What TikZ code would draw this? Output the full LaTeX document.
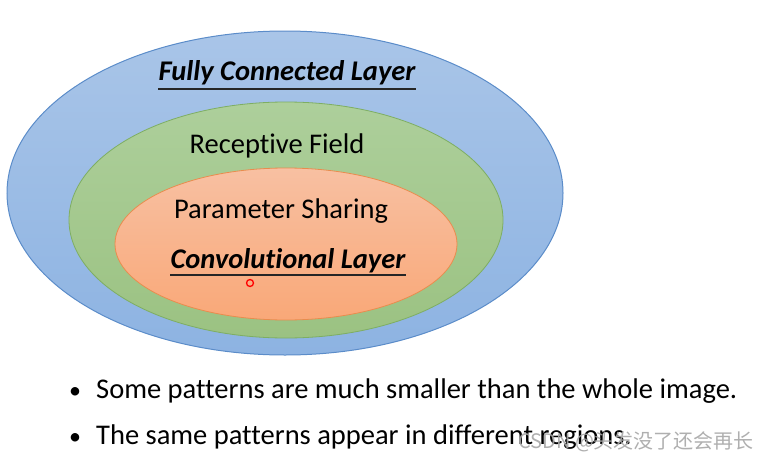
\documentclass[tikz,border=0pt]{standalone}
\usepackage{fontspec}
\setmainfont{Carlito}[Ligatures=NoCommon]
\newfontfamily\cjk{Noto Sans CJK SC}
\definecolor{blueF}{HTML}{A9C5E8}
\definecolor{blueB}{HTML}{8DB3E2}
\definecolor{blueD}{HTML}{5B8CC9}
\definecolor{greenF}{HTML}{ADCF9B}
\definecolor{greenB}{HTML}{9BC282}
\definecolor{greenD}{HTML}{7EAE62}
\definecolor{orF}{HTML}{F8C0A2}
\definecolor{orB}{HTML}{F9A878}
\definecolor{orD}{HTML}{E98C4E}
\tikzset{
  lbl/.style={inner sep=0pt, font=\fontsize{28.5}{32}\selectfont},
  blbl/.style={inner sep=0pt, font=\fontsize{28.5}{32}\selectfont\bfseries\itshape},
  uline/.style={line width=1.3pt, draw=black!85},
  bullettext/.style={inner sep=0pt, anchor=base west, font=\fontsize{28.5}{32}\selectfont},
  bulletmark/.style={inner sep=0pt, anchor=base, font=\fontsize{24}{28}\selectfont},
}
\begin{document}
\begin{tikzpicture}[x=1pt,y=-1pt]
\useasboundingbox (0,0) rectangle (763,463);
% outer ellipse
\shade[top color=blueF, bottom color=blueB, draw=blueD, line width=1pt]
  (285,193) ellipse [x radius=278, y radius=162];
\shade[top color=greenF, bottom color=greenB, draw=greenD, line width=0.8pt]
  (286,220) ellipse [x radius=217, y radius=118];
\shade[top color=orF, bottom color=orB, draw=orD, line width=0.8pt]
  (286,244) ellipse [x radius=171, y radius=76];
% labels
\node[blbl] (fc) at (287,73) {Fully Connected Layer};
\draw[uline] (158,89) -- (416,89);
\node[lbl] (rf) at (277,146) {Receptive Field};
\node[lbl] (ps) at (281,211) {Parameter Sharing};
\node[blbl] (cl) at (288,261) {Convolutional Layer};
\draw[uline] (170,275) -- (406,275);
\node[circle, draw=red, line width=1.3pt, minimum size=7pt, inner sep=0pt] (dot) at (250,283) {};
% bullets
\node[bulletmark] (m1) at (75,398) {\textbullet};
\node[bullettext] (b1) at (96,398) {Some patterns are much smaller than the whole image.};
\node[bulletmark] (m2) at (75,444) {\textbullet};
\node[bullettext] (b2) at (96,444) {The same patterns appear in different regions.};
% watermark
\node[inner sep=0pt, anchor=base west, text=gray!70, opacity=0.9, font=\cjk\fontsize{20}{24}\selectfont] (wm) at (518,448) {CSDN @头发没了还会再长};
\end{tikzpicture}
\end{document}
